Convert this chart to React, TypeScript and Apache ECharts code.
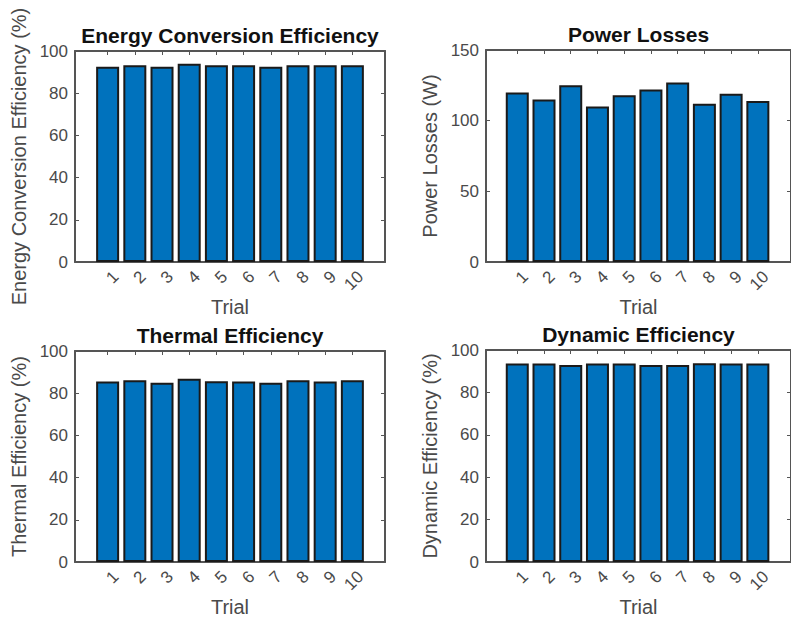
import React, { useEffect, useRef } from "react";
import * as echarts from "echarts";

const trials = [1, 2, 3, 4, 5, 6, 7, 8, 9, 10];
const energyConversion = [92.5, 93.2, 92.5, 94.0, 93.2, 93.2, 92.5, 93.2, 93.2, 93.2];
const powerLosses = [120, 115, 125, 110, 118, 122, 127, 112, 119, 114];
const thermalEfficiency = [85.5, 86.1, 85.0, 86.8, 85.7, 85.5, 85.0, 86.1, 85.5, 86.1];
const dynamicEfficiency = [93.6, 93.6, 92.9, 93.6, 93.6, 92.9, 92.9, 93.7, 93.6, 93.6];

const titles = ["Energy Conversion Efficiency", "Power Losses", "Thermal Efficiency", "Dynamic Efficiency"];
const yNames = ["Energy Conversion Efficiency (%)", "Power Losses (W)", "Thermal Efficiency (%)", "Dynamic Efficiency (%)"];
const yMax = [100, 150, 100, 100];
const yInterval = [20, 50, 20, 20];
const xName = "Trial";

const FONT = "'Liberation Sans', Arial, Helvetica, sans-serif";
const AXIS = "#555555";
const LABEL = "#4a4a4a";

const panels = [
  { data: energyConversion, left: 75, top: 51, width: 310, height: 211, xmin: -0.2, xmax: 11.2 },
  { data: powerLosses, left: 486, top: 50, width: 313, height: 212, xmin: -0.17, xmax: 11.24 },
  { data: thermalEfficiency, left: 75, top: 351, width: 310, height: 211, xmin: -0.2, xmax: 11.2 },
  { data: dynamicEfficiency, left: 486, top: 350, width: 313, height: 212, xmin: -0.17, xmax: 11.24 },
];

function buildOption() {
  const grid: any[] = [];
  const xAxis: any[] = [];
  const yAxis: any[] = [];
  const series: any[] = [];
  const title: any[] = [];
  const shift = 0.3;
  panels.forEach((p, i) => {
    grid.push({ left: p.left, top: p.top, width: p.width, height: p.height, containLabel: false });
    title.push({
      text: titles[i],
      left: p.left + p.width / 2 - (i % 2 === 1 ? 4 : 0),
      top: p.top - 16,
      textAlign: "center",
      textVerticalAlign: "middle",
      padding: 0,
      textStyle: { fontFamily: FONT, fontSize: 21, fontWeight: "bold", color: "#111" },
    });
    const lineStyle = { color: AXIS, width: 2 };
    // bottom axis: tick labels and name
    xAxis.push({
      type: "value",
      gridIndex: i,
      position: "bottom",
      min: p.xmin - shift,
      max: p.xmax - shift,
      axisLine: { show: true, onZero: false, lineStyle },
      axisTick: { show: false },
      splitLine: { show: false },
      axisLabel: {
        customValues: trials,
        rotate: 45,
        margin: 12,
        fontFamily: FONT,
        fontSize: 17,
        color: LABEL,
      },
      name: xName,
      nameLocation: "middle",
      nameGap: 35,
      nameTextStyle: { fontFamily: FONT, fontSize: 20, color: LABEL },
    });
    // top axis: bar positions, inner ticks
    xAxis.push({
      type: "value",
      gridIndex: i,
      position: "top",
      min: p.xmin,
      max: p.xmax,
      axisLine: { show: true, onZero: false, lineStyle },
      axisTick: { show: true, inside: true, length: 4, customValues: trials, lineStyle: { color: AXIS, width: 1 } },
      axisLabel: { show: false },
      splitLine: { show: false },
    });
    yAxis.push({
      type: "value",
      gridIndex: i,
      position: "left",
      min: 0,
      max: yMax[i],
      interval: yInterval[i],
      axisLine: { show: true, onZero: false, lineStyle },
      axisTick: { show: true, inside: true, length: 4, lineStyle: { color: AXIS, width: 1 } },
      axisLabel: { margin: 7, fontFamily: FONT, fontSize: 17, color: LABEL },
      splitLine: { show: false },
      name: yNames[i],
      nameLocation: "middle",
      nameGap: 46,
      nameTextStyle: { fontFamily: FONT, fontSize: 20, color: LABEL },
    });
    yAxis.push({
      type: "value",
      gridIndex: i,
      position: "right",
      min: 0,
      max: yMax[i],
      interval: yInterval[i],
      axisLine: { show: true, onZero: false, lineStyle },
      axisTick: { show: true, inside: true, length: 4, lineStyle: { color: AXIS, width: 1 } },
      axisLabel: { show: false },
      splitLine: { show: false },
    });
    series.push({
      type: "bar",
      xAxisIndex: i * 2 + 1,
      yAxisIndex: i * 2,
      barWidth: 23,
      data: trials.map((t, k) => [t, p.data[k]]),
      itemStyle: { color: "#0072BD", borderColor: "#1a1a1a", borderWidth: 2 },
      z: 1,
    });
  });
  return { animation: false, backgroundColor: "#ffffff", title, grid, xAxis, yAxis, series };
}

export default function App() {
  const ref = useRef<HTMLDivElement>(null);
  useEffect(() => {
    if (!ref.current) return;
    const chart = echarts.init(ref.current, undefined, { renderer: "svg" });
    chart.setOption(buildOption() as any);
    return () => chart.dispose();
  }, []);
  return (
    <div
      ref={ref}
      style={{ position: "fixed", left: 0, top: 0, width: 791, height: 620, background: "#fff" }}
    />
  );
}
